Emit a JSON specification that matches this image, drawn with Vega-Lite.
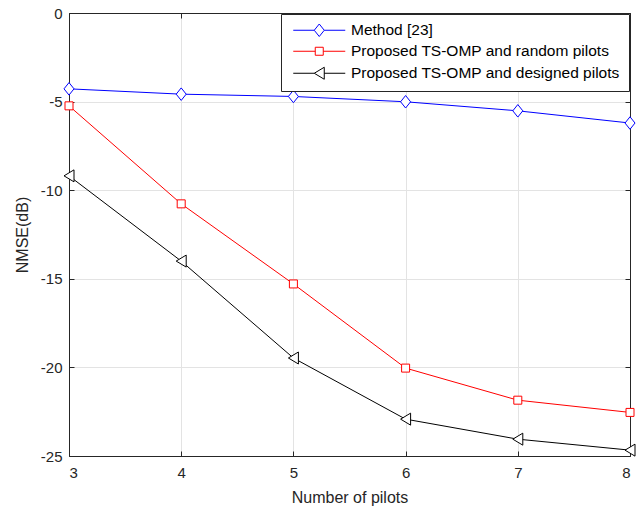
{
  "$schema": "https://vega.github.io/schema/vega-lite/v6.json",
  "width": 561,
  "height": 443,
  "autosize": {"type": "none"},
  "padding": {"left": 69, "top": 13, "right": 6, "bottom": 56},
  "background": "white",
  "config": {
    "font": "Liberation Sans",
    "view": {"stroke": "#262626", "strokeWidth": 1},
    "axis": {
      "labelFont": "Liberation Sans",
      "titleFont": "Liberation Sans",
      "labelFontSize": 15,
      "titleFontSize": 16,
      "titleFontWeight": "normal",
      "labelColor": "#262626",
      "titleColor": "#262626",
      "domainColor": "#262626",
      "tickColor": "#262626",
      "gridColor": "#e3e3e3",
      "gridOpacity": 1,
      "tickSize": -5,
      "domain": true
    },
    "legend": {
      "labelFont": "Liberation Sans",
      "labelFontSize": 15.5,
      "labelColor": "#000000"
    }
  },
  "data": {
    "values": [
      {"n": 3, "method": "Method [23]", "v": -4.28},
      {"n": 4, "method": "Method [23]", "v": -4.58},
      {"n": 5, "method": "Method [23]", "v": -4.71},
      {"n": 6, "method": "Method [23]", "v": -5.01},
      {"n": 7, "method": "Method [23]", "v": -5.52},
      {"n": 8, "method": "Method [23]", "v": -6.21},
      {"n": 3, "method": "Proposed TS-OMP and random pilots", "v": -5.24},
      {"n": 4, "method": "Proposed TS-OMP and random pilots", "v": -10.77},
      {"n": 5, "method": "Proposed TS-OMP and random pilots", "v": -15.29},
      {"n": 6, "method": "Proposed TS-OMP and random pilots", "v": -20.04},
      {"n": 7, "method": "Proposed TS-OMP and random pilots", "v": -21.85},
      {"n": 8, "method": "Proposed TS-OMP and random pilots", "v": -22.54},
      {"n": 3, "method": "Proposed TS-OMP and designed pilots", "v": -9.19},
      {"n": 4, "method": "Proposed TS-OMP and designed pilots", "v": -14.0},
      {"n": 5, "method": "Proposed TS-OMP and designed pilots", "v": -19.47},
      {"n": 6, "method": "Proposed TS-OMP and designed pilots", "v": -22.92},
      {"n": 7, "method": "Proposed TS-OMP and designed pilots", "v": -24.05},
      {"n": 8, "method": "Proposed TS-OMP and designed pilots", "v": -24.67}
    ]
  },
  "layer": [
    {
      "mark": {"type": "line", "strokeWidth": 1},
      "encoding": {
        "x": {
          "field": "n", "type": "quantitative",
          "scale": {"domain": [3, 8], "nice": false, "zero": false},
          "axis": {"values": [3, 4, 5, 6, 7, 8], "title": "Number of pilots", "grid": true, "labelPadding": 14, "titlePadding": 9, "labelExpr": "datum.value + ''"}
        },
        "y": {
          "field": "v", "type": "quantitative",
          "scale": {"domain": [-25, 0], "nice": false, "zero": false},
          "axis": {"values": [-25, -20, -15, -10, -5, 0], "title": "NMSE(dB)", "grid": true, "labelPadding": 12, "titlePadding": 10, "labelExpr": "datum.value + ''"}
        },
        "color": {
          "field": "method", "type": "nominal",
          "scale": {
            "domain": ["Method [23]", "Proposed TS-OMP and random pilots", "Proposed TS-OMP and designed pilots"],
            "range": ["#0000ff", "#ff0000", "#000000"]
          },
          "legend": {
            "title": null,
            "orient": "top-right",
            "offset": 1,
            "fillColor": "white",
            "strokeColor": "#262626",
            "padding": 8.5,
            "symbolSize": 100,
            "symbolStrokeWidth": 1,
            "symbolFillColor": "white",
            "symbolOffset": 22,
            "rowPadding": 4,
            "labelOffset": 24,
            "labelLimit": 400,
            "encode": {
              "symbols": {
                "update": {
                  "shape": {"signal": "datum.value === 'Method [23]' ? 'M-5.2,0L-1,0M1,0L5.2,0M0,-1.25L1,0L0,1.25L-1,0Z' : datum.value === 'Proposed TS-OMP and random pilots' ? 'M-5.2,0L-0.8,0M0.8,0L5.2,0M-0.8,-0.8L0.8,-0.8L0.8,0.8L-0.8,0.8Z' : 'M-5.2,0L-1,0M1,0L5.2,0M-1,0L1,-1.2L1,1.2Z'"}
                }
              }
            }
          }
        }
      }
    },
    {
      "transform": [{"filter": "datum.method === 'Method [23]'"}],
      "mark": {"type": "point", "shape": "M0,-1.25L1,0L0,1.25L-1,0Z", "filled": false, "fill": "white", "fillOpacity": 1, "strokeWidth": 1, "size": 100, "opacity": 1, "color": "#0000ff"},
      "encoding": {
        "x": {"field": "n", "type": "quantitative", "axis": null},
        "y": {"field": "v", "type": "quantitative", "axis": null}
      }
    },
    {
      "transform": [{"filter": "datum.method === 'Proposed TS-OMP and random pilots'"}],
      "mark": {"type": "point", "shape": "M-0.8,-0.8L0.8,-0.8L0.8,0.8L-0.8,0.8Z", "filled": false, "fill": "white", "fillOpacity": 1, "strokeWidth": 1, "size": 100, "opacity": 1, "color": "#ff0000"},
      "encoding": {
        "x": {"field": "n", "type": "quantitative", "axis": null},
        "y": {"field": "v", "type": "quantitative", "axis": null}
      }
    },
    {
      "transform": [{"filter": "datum.method === 'Proposed TS-OMP and designed pilots'"}],
      "mark": {"type": "point", "shape": "M-1,0L1,-1.2L1,1.2Z", "filled": false, "fill": "white", "fillOpacity": 1, "strokeWidth": 1, "size": 100, "opacity": 1, "color": "#000000"},
      "encoding": {
        "x": {"field": "n", "type": "quantitative", "axis": null},
        "y": {"field": "v", "type": "quantitative", "axis": null}
      }
    },
    {
      "mark": {"type": "point", "opacity": 0},
      "encoding": {
        "x": {"field": "n", "type": "quantitative", "axis": {"orient": "top", "values": [3, 4, 5, 6, 7, 8], "labels": false, "grid": false, "title": null}},
        "y": {"field": "v", "type": "quantitative", "axis": {"orient": "right", "values": [-25, -20, -15, -10, -5, 0], "labels": false, "grid": false, "title": null}}
      }
    }
  ],
  "resolve": {"axis": {"x": "independent", "y": "independent"}}
}
